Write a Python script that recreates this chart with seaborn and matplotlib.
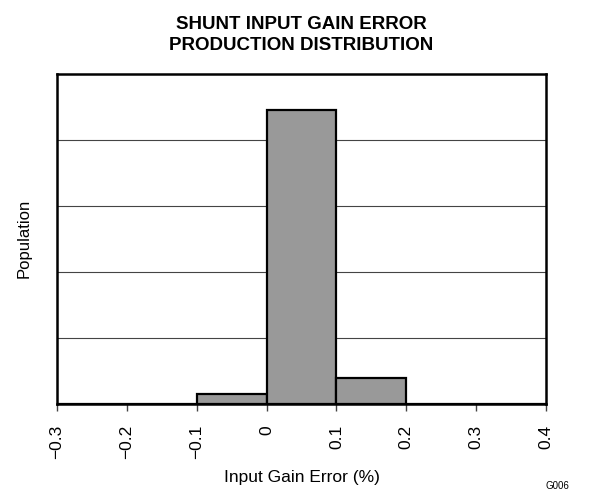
import numpy as np
import matplotlib
matplotlib.use('Agg')
import matplotlib.pyplot as plt
import seaborn as sns

# Histogram bins (input gain error, %) and population heights
bin_edges = [-0.3, -0.2, -0.1, 0.0, 0.1, 0.2, 0.3, 0.4]
bin_centers = [-0.25, -0.15, -0.05, 0.05, 0.15, 0.25, 0.35]
population = [0.0, 0.0, 0.15, 4.45, 0.39, 0.0, 0.0]
x_ticks = [-0.3, -0.2, -0.1, 0, 0.1, 0.2, 0.3, 0.4]
x_tick_labels = ['\u22120.3', '\u22120.2', '\u22120.1', '0', '0.1', '0.2', '0.3', '0.4']

sns.set_style('white')
plt.rcParams['font.family'] = ['Liberation Sans', 'DejaVu Sans']
plt.rcParams['text.color'] = 'black'
plt.rcParams['axes.labelcolor'] = 'black'
plt.rcParams['xtick.color'] = 'black'

fig = plt.figure(figsize=(5.97, 4.94), dpi=100)
ax = fig.add_axes([0.0955, 0.182, 0.819, 0.669])

# grid lines behind the bars
for yv in [1, 2, 3, 4]:
    ax.axhline(yv, color='#444444', lw=0.8, zorder=0)

sns.histplot(x=bin_centers, weights=population, bins=bin_edges, ax=ax,
             color='#999999', alpha=1, edgecolor='black', linewidth=1.6, zorder=2)

ax.set_xlim(-0.3, 0.4)
ax.set_ylim(0, 5)
ax.set_xticks(x_ticks)
ax.set_xticklabels(x_tick_labels, rotation=90, fontsize=12.5)
ax.set_yticks([])
ax.tick_params(axis='x', direction='out', length=5, width=1, color='#444444',
               bottom=True, pad=10)
for s in ax.spines.values():
    s.set_linewidth(1.8)
    s.set_color('black')

ax.set_xlabel('Input Gain Error (%)', fontsize=12.5, labelpad=8)
ax.set_ylabel('Population', fontsize=12, labelpad=18)
ax.set_title('SHUNT INPUT GAIN ERROR\nPRODUCTION DISTRIBUTION', fontsize=13.5,
             fontweight='bold', pad=17, linespacing=1.3)
fig.text(0.933, 0.006, 'G006', fontsize=7, ha='center', va='bottom')

fig.savefig('out.png', dpi=100)
